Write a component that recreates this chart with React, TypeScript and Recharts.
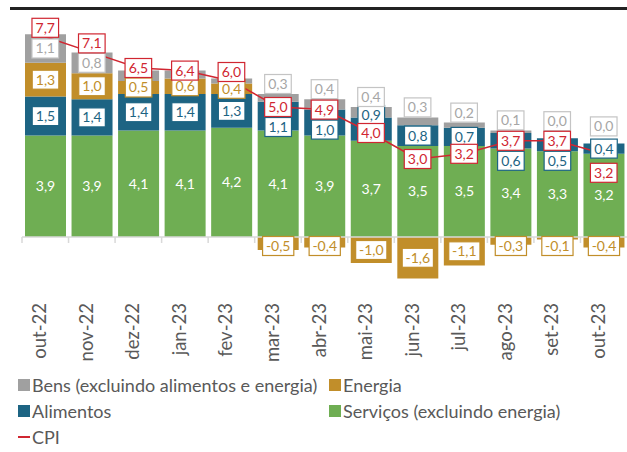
import React from 'react';
import { ComposedChart, Bar, Line, XAxis, YAxis, ReferenceLine, LabelList } from 'recharts';

const months = ['out-22', 'nov-22', 'dez-22', 'jan-23', 'fev-23', 'mar-23', 'abr-23', 'mai-23', 'jun-23', 'jul-23', 'ago-23', 'set-23', 'out-23'];
const servicos = [3.9, 3.9, 4.1, 4.1, 4.2, 4.1, 3.9, 3.7, 3.5, 3.5, 3.4, 3.3, 3.2];
const alimentos = [1.5, 1.4, 1.4, 1.4, 1.3, 1.1, 1.0, 0.9, 0.8, 0.7, 0.6, 0.5, 0.4];
const energia = [1.3, 1.0, 0.5, 0.6, 0.4, -0.5, -0.4, -1.0, -1.6, -1.1, -0.3, -0.1, -0.4];
const bens = [1.1, 0.8, 0.4, 0.3, 0.2, 0.3, 0.4, 0.4, 0.3, 0.2, 0.1, 0.0, 0.0];
const cpi = [7.7, 7.1, 6.5, 6.4, 6.0, 5.0, 4.9, 4.0, 3.0, 3.2, 3.7, 3.7, 3.2];
// months where the Bens label is not shown
const bensNoLabel = ['dez-22', 'jan-23', 'fev-23'];

const data = months.map((m, i) => ({
  month: m,
  servicos: servicos[i],
  alimentos: alimentos[i],
  energia: energia[i],
  bens: bens[i],
  cpi: cpi[i],
}));

const W = 627;
const H = 452;
const margin = { top: 29, right: 0, bottom: 93, left: 22 };
const xAxisH = 70;
const yDomain = [-2, 8];
const plotBottom = H - margin.bottom - xAxisH;
const ppu = (plotBottom - margin.top) / (yDomain[1] - yDomain[0]);
const zeroY = margin.top + yDomain[1] * ppu;
const bandW = (W - margin.left - margin.right) / months.length;

const FONT = 'Lato, "Open Sans", sans-serif';
const GREEN = '#6fae53';
const BLUE = '#1d6483';
const GOLD = '#c18e2a';
const GRAY = '#a0a0a0';
const RED = '#d02631';

const fmt = (v: number) => v.toFixed(1).replace('.', ',');

const textW = (s: string, fs: number) =>
  s.split('').reduce((a, c) => a + (c === ',' ? 0.24 : c === '-' ? 0.33 : 0.58), 0) * fs;

const Box = ({ cx, cy, text, color, border }: any) => {
  const fs = 14;
  const w = textW(text, fs) + 7;
  const h = 19;
  return (
    <g>
      <rect x={cx - w / 2} y={cy - h / 2} width={w} height={h} fill="#fff" stroke={border} strokeWidth={1.2} />
      <text x={cx} y={cy} dy="0.35em" textAnchor="middle" fontSize={fs} fill={color} fontFamily={FONT}>
        {text}
      </text>
    </g>
  );
};

// nudges for CPI labels that Excel moved off their points
const cpiNudge = (i: number) => (i === 0 || i === 1 || i === 4 ? -9 : i === months.length - 1 ? 19 : 0);

const seg = (p: any) => {
  const top = Math.min(p.y, p.y + p.height);
  const h = Math.abs(p.height);
  return { top, h, cx: p.x + p.width / 2 };
};

const ServLabel = (p: any) => {
  const { top, h, cx } = seg(p);
  return (
    <text x={cx} y={top + h / 2} dy="0.35em" textAnchor="middle" fontSize={14} fill="#fff" fontFamily={FONT}>
      {fmt(servicos[p.index])}
    </text>
  );
};

const AlimLabel = (p: any) => {
  const { top, h, cx } = seg(p);
  const i = p.index;
  const cpiY = zeroY - cpi[i] * ppu + cpiNudge(i);
  let cy = top + h / 2;
  if (Math.abs(cy - cpiY) < 16) cy = cy < cpiY - 2 ? cpiY - 18 : cpiY + 20;
  return <Box cx={cx} cy={cy} text={fmt(alimentos[i])} color={BLUE} border={BLUE} />;
};

const EnerLabel = (p: any) => {
  const { top, h, cx } = seg(p);
  const v = energia[p.index];
  const cy = v < 0 ? Math.max(top + h / 2, top + 9) : top + h / 2;
  return <Box cx={cx} cy={cy} text={fmt(v)} color={GOLD} border={GOLD} />;
};

// drawn from the line layer so that zero-height segments still get a label
const BensLabel = (p: any) => {
  const i = p.index;
  if (bensNoLabel.includes(months[i])) return null;
  const stackTop = servicos[i] + alimentos[i] + Math.max(energia[i], 0) + bens[i];
  const top = zeroY - stackTop * ppu;
  const h = bens[i] * ppu;
  const cy = h > 14 ? top + h / 2 : top - 10 - (h < 2 ? 7 : 0);
  return <Box cx={p.x} cy={cy} text={fmt(bens[i])} color="#a6a6a6" border="#c4c4c4" />;
};

const CpiLabel = (p: any) => {
  const i = p.index;
  return <Box cx={p.x} cy={p.y + cpiNudge(i)} text={fmt(cpi[i])} color={RED} border={RED} />;
};

const MonthTick = (p: any) => {
  const { x, payload } = p;
  return (
    <g>
      <line x1={x - bandW / 2} x2={x - bandW / 2} y1={zeroY} y2={zeroY + 6} stroke="#d9d9d9" strokeWidth={1.5} />
      <text
        transform={`translate(${x + 1},${zeroY + 66}) rotate(-90)`}
        textAnchor="end"
        fontSize={18.5}
        fill="#595959"
        fontFamily={FONT}
      >
        {payload.value}
      </text>
    </g>
  );
};

const legendRows = [
  [{ name: 'Bens (excluindo alimentos e energia)', color: GRAY }, { name: 'Energia', color: GOLD }],
  [{ name: 'Alimentos', color: BLUE }, { name: 'Serviços (excluindo energia)', color: GREEN }],
];

const Legend = () => (
  <div style={{ position: 'absolute', left: 0, top: 0, width: W, fontFamily: FONT, fontSize: 18, color: '#595959' }}>
    {legendRows.map((row, r) =>
      row.map((it, c) => (
        <div
          key={it.name}
          style={{ position: 'absolute', left: c === 0 ? 18 : 329, top: 385 + r * 26 - 11, height: 22, display: 'flex', alignItems: 'center', whiteSpace: 'nowrap' }}
        >
          <span style={{ width: 12, height: 12, background: it.color, display: 'inline-block', marginRight: 2 }} />
          {it.name}
        </div>
      ))
    )}
    <div style={{ position: 'absolute', left: 18, top: 437 - 11, height: 22, display: 'flex', alignItems: 'center' }}>
      <span style={{ width: 12, height: 2, background: RED, display: 'inline-block', marginRight: 2 }} />
      CPI
    </div>
  </div>
);

export default function App() {
  return (
    <div style={{ position: 'absolute', left: 0, top: 0, width: W, height: H, background: '#fff', overflow: 'hidden' }}>
      <div style={{ position: 'absolute', left: 10, top: 7, width: W - 10, height: 3, background: '#222' }} />
      <ComposedChart width={W} height={H} data={data} margin={margin} stackOffset="sign" barSize={41}>
        <YAxis hide domain={yDomain} type="number" allowDataOverflow />
        <XAxis dataKey="month" height={xAxisH} axisLine={false} tickLine={false} tick={<MonthTick />} interval={0} />
        <ReferenceLine y={0} stroke="#d9d9d9" strokeWidth={1.5} />
        <Bar dataKey="servicos" stackId="a" fill={GREEN} isAnimationActive={false}>
          <LabelList dataKey="servicos" content={<ServLabel />} />
        </Bar>
        <Bar dataKey="alimentos" stackId="a" fill={BLUE} isAnimationActive={false}>
          <LabelList dataKey="alimentos" content={<AlimLabel />} />
        </Bar>
        <Bar dataKey="energia" stackId="a" fill={GOLD} isAnimationActive={false}>
          <LabelList dataKey="energia" content={<EnerLabel />} />
        </Bar>
        <Bar dataKey="bens" stackId="a" fill={GRAY} isAnimationActive={false} />
        <Line dataKey="cpi" stroke={RED} strokeWidth={1.5} dot={false} isAnimationActive={false}>
          <LabelList dataKey="bens" content={<BensLabel />} />
          <LabelList dataKey="cpi" content={<CpiLabel />} />
        </Line>
      </ComposedChart>
      <Legend />
    </div>
  );
}
